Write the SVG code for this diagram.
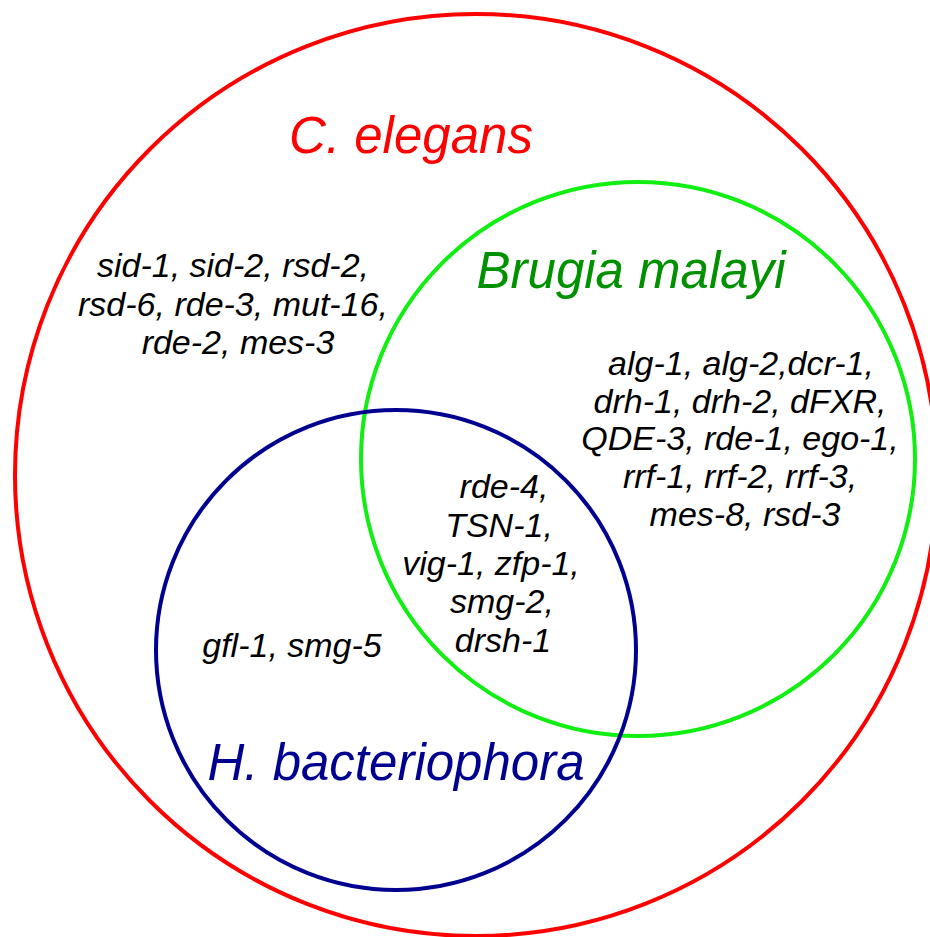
<svg xmlns="http://www.w3.org/2000/svg" width="930" height="937" viewBox="0 0 930 937">
<style>
.c{fill:none;stroke-width:4}
.t{font-family:"Liberation Sans",Arial,sans-serif;font-style:italic;font-size:34px;fill:#000;text-anchor:middle}
.lbl{font-family:"Liberation Sans",Arial,sans-serif;font-style:italic;font-size:51px;text-anchor:middle}
</style>
<rect width="930" height="937" fill="#fff"/>
<g id="c-elegans">
<circle class="c" cx="476" cy="475" r="461" stroke="#ff0000"/>
<text class="lbl" x="411" y="153" fill="#ff0000">C. elegans</text>
</g>
<g id="brugia">
<circle class="c" cx="638" cy="459" r="277" stroke="#11ee11"/>
<text class="lbl" x="631" y="288" fill="#009100">Brugia malayi</text>
</g>
<g id="hbact">
<circle class="c" cx="396" cy="650" r="240" stroke="#000090"/>
<text class="lbl" x="396" y="780" fill="#000090">H. bacteriophora</text>
</g>
<g id="ce-only">
<text class="t" x="233" y="277">sid-1, sid-2, rsd-2,</text>
<text class="t" x="233" y="316">rsd-6, rde-3, mut-16,</text>
<text class="t" x="238" y="354">rde-2, mes-3</text>
</g>
<g id="bm-ce">
<text class="t" x="741" y="375">alg-1, alg-2,dcr-1,</text>
<text class="t" x="740" y="413">drh-1, drh-2, dFXR,</text>
<text class="t" x="740" y="450">QDE-3, rde-1, ego-1,</text>
<text class="t" x="740" y="488">rrf-1, rrf-2, rrf-3,</text>
<text class="t" x="745" y="526">mes-8, rsd-3</text>
</g>
<g id="all-three">
<text class="t" x="504" y="498">rde-4,</text>
<text class="t" x="499" y="537">TSN-1,</text>
<text class="t" x="491" y="575">vig-1, zfp-1,</text>
<text class="t" x="502" y="613">smg-2,</text>
<text class="t" x="503" y="652">drsh-1</text>
</g>
<g id="hb-ce">
<text class="t" x="292" y="657">gfl-1, smg-5</text>
</g>
<g id="connectors"/>
</svg>
